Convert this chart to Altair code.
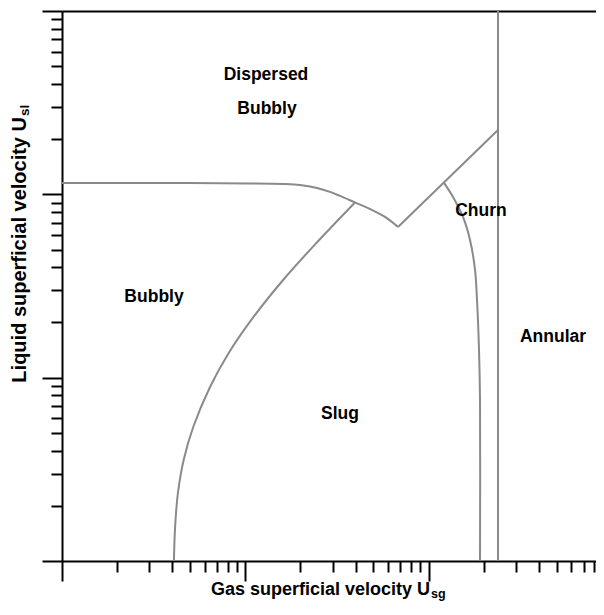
import altair as alt
import pandas as pd

# ---- boundary curves (gas superficial velocity, liquid superficial velocity) ----
top_x = [0.01, 0.0302, 0.1061, 0.1606, 0.1988, 0.2462, 0.2898, 0.3286, 0.3967, 0.4790, 0.5783, 0.6810]
top_y = [0.1154, 0.1154, 0.1147, 0.1139, 0.1125, 0.1083, 0.1031, 0.0980, 0.0903, 0.0832, 0.0753, 0.0664]

v_x = [0.6810, 2.391]
v_y = [0.0664, 0.2245]

bs_x = [0.0408, 0.0414, 0.0429, 0.0461, 0.0520, 0.0642, 0.0812, 0.1076, 0.1608, 0.2443, 0.3967]
bs_y = [0.001, 0.00153, 0.00235, 0.00356, 0.00538, 0.00890, 0.01364, 0.0206, 0.0341, 0.0543, 0.0903]

churn_x = [1.2134, 1.3588, 1.5404, 1.6825, 1.792, 1.8373, 1.884, 1.9076, 1.9076]
churn_y = [0.1154, 0.0968, 0.0753, 0.0564, 0.0387, 0.0265, 0.01416, 0.00756, 0.001]

ann_x = [2.391, 2.391]
ann_y = [0.001, 1.0]

# ---- region labels ----
label_text = ["Dispersed", "Bubbly", "Bubbly", "Slug", "Churn", "Annular"]
label_x = [0.1297, 0.1313, 0.03177, 0.3286, 1.931, 4.771]
label_y = [0.4482, 0.2924, 0.02756, 0.00634, 0.0812, 0.01667]

# ---- axis ticks ----
x_ticks = [0.01, 0.02, 0.03, 0.04, 0.05, 0.06, 0.07, 0.08, 0.09,
           0.1, 0.2, 0.3, 0.4, 0.5, 0.6, 0.7, 0.8, 0.9,
           1, 2, 3, 4, 5, 6, 7, 8]
y_ticks = [0.001, 0.002, 0.003, 0.004, 0.005, 0.006, 0.007, 0.008, 0.009,
           0.01, 0.02, 0.03, 0.04, 0.05, 0.06, 0.07, 0.08, 0.09,
           0.1, 0.2, 0.3, 0.4, 0.5, 0.6, 0.7, 0.8, 0.9, 1.0]

X_DOMAIN = [0.01, 8.19]
Y_DOMAIN = [0.001, 1.0]

rows = []
for name, xs, ys in [("top", top_x, top_y), ("v", v_x, v_y), ("bs", bs_x, bs_y),
                     ("churn", churn_x, churn_y), ("ann", ann_x, ann_y)]:
    for i, (a, b) in enumerate(zip(xs, ys)):
        rows.append({"seg": name, "i": i, "x": a, "y": b})
df = pd.DataFrame(rows)
lab_df = pd.DataFrame({"t": label_text, "x": label_x, "y": label_y})

major = "abs(log(datum.value)/LN10 - round(log(datum.value)/LN10)) < 0.01"
tick_size = {"condition": {"test": major, "value": 20}, "value": 11}

xscale = alt.Scale(type="log", domain=X_DOMAIN, nice=False)
yscale = alt.Scale(type="log", domain=Y_DOMAIN, nice=False)

xaxis = alt.Axis(values=x_ticks, labels=False, title=None, grid=False,
                 domainColor="black", domainWidth=2, tickColor="black",
                 tickWidth=2, tickSize=tick_size)
yaxis = alt.Axis(values=y_ticks, labels=False, title=None, grid=False,
                 domainColor="black", domainWidth=2, tickColor="black",
                 tickWidth=2, tickSize=tick_size)

FONT = "Liberation Sans"

lines = alt.Chart(df).mark_line(color="#8a8a8a", strokeWidth=2, interpolate="catmull-rom").encode(
    x=alt.X("x:Q", scale=xscale, axis=xaxis),
    y=alt.Y("y:Q", scale=yscale, axis=yaxis),
    detail="seg:N",
    order="i:Q",
)

labels = alt.Chart(lab_df).mark_text(font=FONT, fontWeight="bold", fontSize=17.5, color="black").encode(
    x=alt.X("x:Q", scale=xscale,
            axis=alt.Axis(orient="top", labels=False, ticks=False, title=None, grid=False,
                          domainColor="black", domainWidth=2)),
    y=alt.Y("y:Q", scale=yscale, axis=yaxis),
    text="t:N",
)

def txt(s, x, y, size, align, angle=0, baseline="alphabetic"):
    kw = dict(font=FONT, fontWeight="bold", fontSize=size, color="black",
              align=align, baseline=baseline)
    if angle:
        kw["angle"] = angle
    return alt.Chart(pd.DataFrame({"t": [s]})).mark_text(**kw).encode(
        x=alt.value(x), y=alt.value(y), text="t:N")

x_title = txt("Gas superficial velocity U", 368, 584, 18, "right")
x_sub = txt("sg", 369, 587, 12.5, "left")
y_title = txt("Liquid superficial velocity U", -42, 106, 20, "right", angle=270, baseline="middle")
y_sub = txt("sl", -37, 105, 13.5, "left", angle=270, baseline="middle")

chart = alt.layer(lines, labels, x_title, x_sub, y_title, y_sub).resolve_axis(
    x="independent"
).properties(
    width=534, height=550,
    autosize=alt.AutoSizeParams(type="none"),
    padding={"left": 54, "top": 3, "right": 0, "bottom": 41},
    background="white",
).configure_view(stroke=None)

chart.save("out.html", embed_options={"renderer": "svg", "actions": False})
